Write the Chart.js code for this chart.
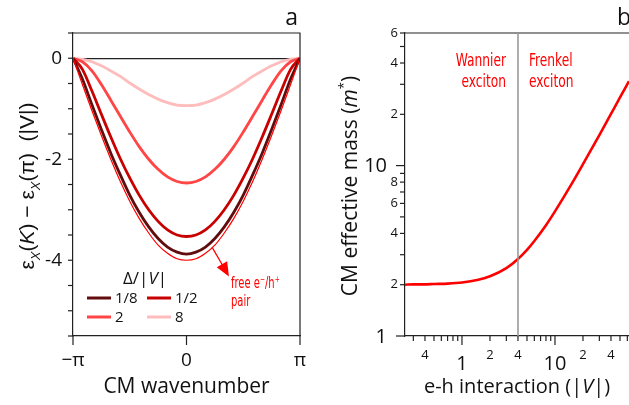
<!DOCTYPE html>
<html>
<head>
<meta charset="utf-8">
<script src="https://cdn.jsdelivr.net/npm/chart.js@4.4.0/dist/chart.umd.min.js"></script>
<style>
  html, body { margin: 0; padding: 0; background: #fff; }
  #wrap { position: relative; width: 629px; height: 405px; overflow: hidden; }
  #panelA { position: absolute; left: 0; top: 0; }
  #panelB { position: absolute; left: 320px; top: 0; }
</style>
</head>
<body>
<div id="wrap">
  <canvas id="panelA" width="320" height="405"></canvas>
  <canvas id="panelB" width="309" height="405"></canvas>
</div>
<script>
// ---- panel a : exciton dispersion, K in units of pi ----
const waveK = [-1, -0.917, -0.833, -0.75, -0.667, -0.583, -0.5, -0.417, -0.333, -0.25, -0.167, -0.083, 0,
               0.083, 0.167, 0.25, 0.333, 0.417, 0.5, 0.583, 0.667, 0.75, 0.833, 0.917, 1];
const freePair = [0, -0.52, -1.04, -1.53, -2.00, -2.44, -2.83, -3.17, -3.46, -3.70, -3.86, -3.97, -4.00,
                  -3.97, -3.86, -3.70, -3.46, -3.17, -2.83, -2.44, -2.00, -1.53, -1.04, -0.52, 0];
const delta1_8 = [0, -0.41, -0.92, -1.41, -1.88, -2.31, -2.71, -3.05, -3.34, -3.57, -3.74, -3.84, -3.88,
                  -3.84, -3.74, -3.57, -3.34, -3.05, -2.71, -2.31, -1.88, -1.41, -0.92, -0.41, 0];
const delta1_2 = [0, -0.22, -0.65, -1.11, -1.56, -1.99, -2.37, -2.71, -3.00, -3.23, -3.40, -3.50, -3.53,
                  -3.50, -3.40, -3.23, -3.00, -2.71, -2.37, -1.99, -1.56, -1.11, -0.65, -0.22, 0];
const delta2 = [0, -0.07, -0.25, -0.52, -0.83, -1.15, -1.46, -1.75, -2.00, -2.20, -2.35, -2.44, -2.47,
                -2.44, -2.35, -2.20, -2.00, -1.75, -1.46, -1.15, -0.83, -0.52, -0.25, -0.07, 0];
const delta8 = [0, -0.02, -0.07, -0.15, -0.25, -0.36, -0.49, -0.61, -0.72, -0.81, -0.88, -0.93, -0.94,
                -0.93, -0.88, -0.81, -0.72, -0.61, -0.49, -0.36, -0.25, -0.15, -0.07, -0.02, 0];
const legendNames = ['1/8', '1/2', '2', '8'];
const kTicks = [-1, 0, 1];
const kTickLabels = ['\u2212\u03c0', '0', '\u03c0'];
const eTicks = [0.5, 0, -0.5, -1, -1.5, -2, -2.5, -3, -3.5, -4, -4.5, -5, -5.5];
const eTickLabels = ['', '0', '', '', '', '-2', '', '', '', '-4', '', '', ''];

// ---- panel b : CM effective mass vs e-h interaction ----
const interaction = [0.244, 0.3, 0.4, 0.5, 0.7, 1, 1.5, 2, 3, 4, 5, 6, 8, 10, 15, 20, 30, 40, 50, 62.5];
const effMass = [2.00, 2.01, 2.01, 2.02, 2.03, 2.06, 2.14, 2.24, 2.50, 2.83, 3.20, 3.61, 4.47, 5.39, 7.76,
                 10.2, 15.1, 20.1, 25.1, 31.3];
const crossover = 4;
const vTicks = [0.3, 0.4, 0.5, 0.6, 0.7, 0.8, 0.9, 1, 2, 3, 4, 5, 6, 7, 8, 9, 10, 20, 30, 40, 50, 60];
const vTickLabels = ['', '4', '', '', '', '', '', '1', '2', '', '4', '', '', '', '', '', '10', '2', '', '4', '', ''];
const mTicks = [1, 2, 3, 4, 5, 6, 7, 8, 9, 10, 20, 30, 40, 50, 60];
const mTickLabels = ['1', '2', '', '4', '', '6', '', '8', '', '10', '2', '', '4', '', '6'];
const bigTicks = [1, 10];

const FONT = "'Open Sans', sans-serif";
const NARROW = "'DejaVu Sans Condensed', 'Liberation Sans Narrow', sans-serif";
const SERIFLESS = "'Liberation Sans', Arial, sans-serif";
const AXIS = '#222';

// draw a run of text pieces (italic / sub / sup) starting at x,y; sx squeezes it horizontally
function richText(ctx, segs, x, y, size, family, rot, align, sx) {
  ctx.save();
  ctx.translate(x, y);
  if (rot) ctx.rotate(rot);
  if (sx) ctx.scale(sx, 1);
  const fontOf = s => (s.it ? 'italic ' : '') + ((s.sub || s.sup) ? Math.round(size * 0.62) : size) + 'px ' + family;
  let w = 0;
  segs.forEach(s => { ctx.font = fontOf(s); w += ctx.measureText(s.t).width; });
  let cx = align === 'center' ? -w / 2 : (align === 'right' ? -w : 0);
  ctx.textAlign = 'left';
  ctx.textBaseline = 'alphabetic';
  segs.forEach(s => {
    ctx.font = fontOf(s);
    const dy = s.sub ? size * 0.28 : (s.sup ? -size * 0.42 : 0);
    ctx.fillText(s.t, cx, dy);
    cx += ctx.measureText(s.t).width;
  });
  ctx.restore();
}

// outward tick marks
function drawMarks(chart, id, lenFn) {
  const s = chart.scales[id], ctx = chart.ctx;
  ctx.save();
  ctx.strokeStyle = AXIS;
  ctx.lineWidth = 1.2;
  s.ticks.forEach(t => {
    const p = s.getPixelForValue(t.value), L = lenFn(t.value);
    ctx.beginPath();
    if (s.isHorizontal()) { ctx.moveTo(p, s.top); ctx.lineTo(p, s.top + L); }
    else { ctx.moveTo(s.right, p); ctx.lineTo(s.right - L, p); }
    ctx.stroke();
  });
  ctx.restore();
}

function pts(xs, ys) { return xs.map((x, i) => ({ x: x, y: ys[i] })); }

// x axes: fixed height and no extra side padding from tick labels
function fitX(s) { s.height = 69; s.paddingLeft = 0; s.paddingRight = 0; }

// ================= panel a =================
const decorA = {
  id: 'decorA',
  afterDraw(chart) {
    const ctx = chart.ctx, a = chart.chartArea, xs = chart.scales.x, ys = chart.scales.y;
    drawMarks(chart, 'x', v => 9);
    drawMarks(chart, 'y', v => 5);
    // top and right frame
    ctx.save();
    ctx.strokeStyle = AXIS; ctx.lineWidth = 1.2;
    ctx.beginPath();
    ctx.moveTo(a.left, a.top); ctx.lineTo(a.right, a.top); ctx.lineTo(a.right, a.bottom);
    ctx.stroke();

    // arrow to the free pair continuum
    const x0 = xs.getPixelForValue(0.225), y0 = ys.getPixelForValue(-3.74);
    const x1 = xs.getPixelForValue(0.374), y1 = ys.getPixelForValue(-4.32);
    const ang = Math.atan2(y1 - y0, x1 - x0);
    ctx.strokeStyle = '#ff0000'; ctx.fillStyle = '#ff0000'; ctx.lineWidth = 1.3;
    ctx.beginPath(); ctx.moveTo(x0, y0);
    ctx.lineTo(x1 - 12 * Math.cos(ang), y1 - 12 * Math.sin(ang)); ctx.stroke();
    ctx.beginPath();
    ctx.moveTo(x1, y1);
    ctx.lineTo(x1 - 14 * Math.cos(ang) + 6 * Math.sin(ang), y1 - 14 * Math.sin(ang) - 6 * Math.cos(ang));
    ctx.lineTo(x1 - 14 * Math.cos(ang) - 6 * Math.sin(ang), y1 - 14 * Math.sin(ang) + 6 * Math.cos(ang));
    ctx.closePath(); ctx.fill();
    richText(ctx, [{ t: 'free e' }, { t: '\u2212', sup: true }, { t: '/h' }, { t: '+', sup: true }], 231, 288, 15, NARROW, 0, 'left', 0.74);
    richText(ctx, [{ t: 'pair' }], 231, 306, 15, NARROW, 0, 'left', 0.74);

    // legend
    ctx.fillStyle = '#111';
    richText(ctx, [{ t: '\u0394/|' }, { t: 'V', it: true }, { t: '|' }], 123, 284, 17, FONT);
    const sets = chart.data.datasets.slice(1);
    const cols = [87, 147], rows = [298, 317];
    sets.forEach((d, i) => {
      const lx = cols[i % 2], ly = rows[Math.floor(i / 2)];
      ctx.strokeStyle = d.borderColor; ctx.lineWidth = 3;
      ctx.beginPath(); ctx.moveTo(lx, ly); ctx.lineTo(lx + 24, ly); ctx.stroke();
      ctx.fillStyle = '#111';
      richText(ctx, [{ t: legendNames[i] }], lx + 28, ly + 5, 15, FONT);
    });

    // panel letter and axis titles
    ctx.fillStyle = '#111';
    richText(ctx, [{ t: 'a' }], 298, 25, 23, FONT, 0, 'right');
    richText(ctx, [{ t: 'CM wavenumber' }], (a.left + a.right) / 2, 393, 21, FONT, 0, 'center');
    richText(ctx, [{ t: '\u03b5' }, { t: 'X', sub: true, it: true }, { t: '(' }, { t: 'K', it: true },
                   { t: ') \u2212 \u03b5' }, { t: 'X', sub: true, it: true }, { t: '(\u03c0)  (|V|)' }],
             34, 186, 21, SERIFLESS, -Math.PI / 2, 'center');
    ctx.restore();
  }
};

new Chart(document.getElementById('panelA'), {
  type: 'line',
  data: {
    datasets: [
      { label: 'free pair', data: pts(waveK, freePair), borderColor: '#ff0000', borderWidth: 1.2 },
      { label: '1/8', data: pts(waveK, delta1_8), borderColor: '#620d0d', borderWidth: 2.8 },
      { label: '1/2', data: pts(waveK, delta1_2), borderColor: '#c80000', borderWidth: 2.8 },
      { label: '2', data: pts(waveK, delta2), borderColor: '#ff4545', borderWidth: 2.8 },
      { label: '8', data: pts(waveK, delta8), borderColor: '#ffbcbc', borderWidth: 2.8 }
    ]
  },
  options: {
    responsive: false,
    animation: false,
    devicePixelRatio: 1,
    layout: { padding: { left: 0, top: 33, right: 20, bottom: 0 } },
    elements: { point: { radius: 0 }, line: { cubicInterpolationMode: 'monotone', fill: false } },
    plugins: { legend: { display: false }, tooltip: { enabled: false } },
    scales: {
      x: {
        type: 'linear', min: -1, max: 1,
        afterBuildTicks: s => { s.ticks = kTicks.map(v => ({ value: v })); },
        afterFit: fitX,
        grid: { display: false, drawTicks: false },
        border: { display: true, color: AXIS, width: 1.2 },
        ticks: { autoSkip: false, maxRotation: 0, padding: 13, color: '#111',
                 font: { family: FONT, size: 19 }, callback: (v, i) => kTickLabels[i] }
      },
      y: {
        min: -5.5, max: 0.5,
        afterBuildTicks: s => { s.ticks = eTicks.map(v => ({ value: v })); },
        afterFit: s => { s.width = 73; },
        grid: { drawTicks: false, lineWidth: 1.2,
                color: c => (c.tick && c.tick.value === 0) ? AXIS : 'rgba(0,0,0,0)' },
        border: { display: true, color: AXIS, width: 1.2 },
        ticks: { autoSkip: false, padding: 11, color: '#111',
                 font: { family: FONT, size: 19 }, callback: (v, i) => eTickLabels[i] }
      }
    }
  },
  plugins: [decorA]
});

// ================= panel b =================
const decorB = {
  id: 'decorB',
  afterDraw(chart) {
    const ctx = chart.ctx, a = chart.chartArea, xs = chart.scales.x, ys = chart.scales.y;
    drawMarks(chart, 'x', v => bigTicks.includes(v) ? 9 : 5);
    drawMarks(chart, 'y', v => bigTicks.includes(v) ? 9 : 5);
    ctx.save();
    ctx.strokeStyle = AXIS; ctx.lineWidth = 1.2;
    ctx.beginPath(); ctx.moveTo(a.left, a.top); ctx.lineTo(a.right, a.top); ctx.stroke();

    // tick labels: decade labels are bigger and sit further out
    ctx.fillStyle = '#111';
    ctx.textAlign = 'right'; ctx.textBaseline = 'middle';
    mTicks.forEach((v, i) => {
      if (!mTickLabels[i]) return;
      const big = bigTicks.includes(v);
      ctx.font = (big ? 20 : 13) + 'px ' + FONT;
      ctx.fillText(mTickLabels[i], a.left - (big ? 18 : 7), ys.getPixelForValue(v) + (big ? 1 : 0));
    });
    ctx.textAlign = 'center';
    vTicks.forEach((v, i) => {
      if (!vTickLabels[i]) return;
      const big = bigTicks.includes(v);
      ctx.font = (big ? 20 : 13) + 'px ' + FONT;
      ctx.fillText(vTickLabels[i], xs.getPixelForValue(v), a.bottom + (big ? 28 : 19));
    });

    // crossover line
    const xc = xs.getPixelForValue(crossover);
    ctx.strokeStyle = '#9a9a9a'; ctx.lineWidth = 1.6;
    ctx.beginPath(); ctx.moveTo(xc, a.top); ctx.lineTo(xc, a.bottom); ctx.stroke();

    ctx.fillStyle = '#ff0000';
    richText(ctx, [{ t: 'Wannier' }], xc - 12, 66, 17, NARROW, 0, 'right', 0.8);
    richText(ctx, [{ t: 'exciton' }], xc - 12, 87, 17, NARROW, 0, 'right', 0.8);
    richText(ctx, [{ t: 'Frenkel' }], xc + 11, 66, 17, NARROW, 0, 'left', 0.8);
    richText(ctx, [{ t: 'exciton' }], xc + 11, 87, 17, NARROW, 0, 'left', 0.8);

    ctx.fillStyle = '#111';
    richText(ctx, [{ t: 'b' }], 297, 25, 23, FONT);
    richText(ctx, [{ t: 'e-h interaction (|' }, { t: 'V', it: true }, { t: '|)' }], 197, 393, 20, FONT, 0, 'center');
    richText(ctx, [{ t: 'CM effective mass (' }, { t: 'm', it: true }, { t: '*', sup: true }, { t: ')' }],
             37, 186, 21, FONT, -Math.PI / 2, 'center');
    ctx.restore();
  }
};

new Chart(document.getElementById('panelB'), {
  type: 'line',
  data: {
    datasets: [
      { label: 'CM effective mass', data: pts(interaction, effMass), borderColor: '#ff0000', borderWidth: 2.6 }
    ]
  },
  options: {
    responsive: false,
    animation: false,
    devicePixelRatio: 1,
    layout: { padding: { left: 0, top: 33, right: 0, bottom: 0 } },
    elements: { point: { radius: 0 }, line: { cubicInterpolationMode: 'monotone', fill: false } },
    plugins: { legend: { display: false }, tooltip: { enabled: false } },
    scales: {
      x: {
        type: 'logarithmic', min: 0.244, max: 62.5,
        afterBuildTicks: s => { s.ticks = vTicks.map(v => ({ value: v })); },
        afterFit: fitX,
        grid: { display: false, drawTicks: false },
        border: { display: true, color: AXIS, width: 1.2 },
        ticks: { display: false }
      },
      y: {
        type: 'logarithmic', min: 1, max: 60,
        afterBuildTicks: s => { s.ticks = mTicks.map(v => ({ value: v })); },
        afterFit: s => { s.width = 85; },
        grid: { display: false, drawTicks: false },
        border: { display: true, color: AXIS, width: 1.2 },
        ticks: { display: false }
      }
    }
  },
  plugins: [decorB]
});
</script>
</body>
</html>
